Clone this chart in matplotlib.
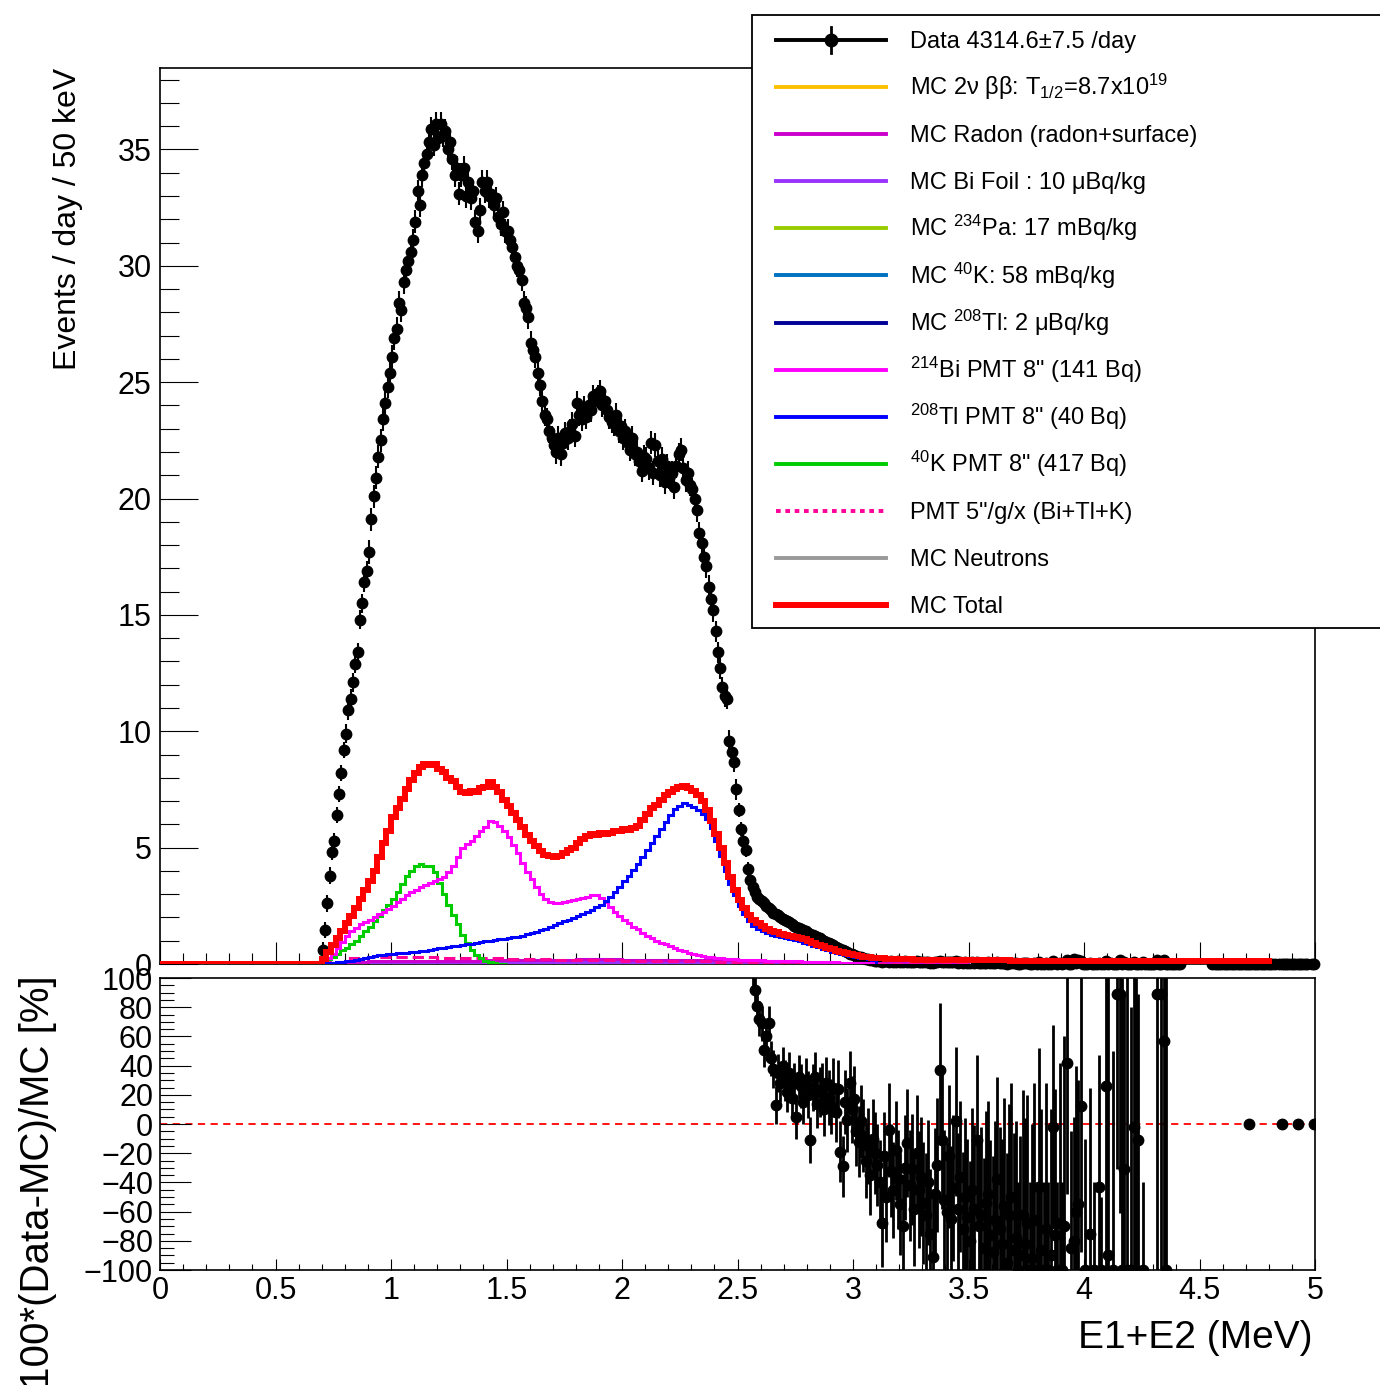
import matplotlib
matplotlib.use('Agg')
import matplotlib.pyplot as plt
import numpy as np
from matplotlib.lines import Line2D
from matplotlib.patches import Rectangle
from matplotlib.ticker import MultipleLocator

plt.rcParams['font.family'] = ['Liberation Sans', 'DejaVu Sans']
plt.rcParams['mathtext.fontset'] = 'custom'
plt.rcParams['mathtext.rm'] = 'Liberation Sans'
plt.rcParams['mathtext.it'] = 'Liberation Sans:italic'
plt.rcParams['mathtext.default'] = 'regular'

nan = np.nan

# data, 10 keV bins starting at 0.70 MeV (events / day)
data_counts = [
    0.6, 1.45, 2.6, 3.8, 4.8, 5.3, 6.4, 7.3, 8.2, 9.2,
    9.9, 10.9, 11.4, 12.1, 12.9, 13.4, 14.8, 15.5, 16.4, 16.9,
    17.7, 19.1, 20.1, 20.9, 21.8, 22.5, 23.4, 24.1, 24.8, 25.4,
    26.1, 26.9, 27.3, 28.4, 28.1, 29.3, 29.8, 30.2, 30.6, 31.1,
    31.9, 33.2, 32.6, 33.9, 34.4, 34.8, 35.3, 35.9, 35.2, 36.1,
    35.5, 36.1, 35.6, 35.8, 35.0, 35.3, 34.6, 33.9, 34.2, 33.1,
    33.9, 34.2, 33.0, 33.6, 32.9, 33.2, 31.9, 31.5, 32.4, 33.6,
    33.2, 33.6, 33.0, 33.1, 32.6, 32.9, 32.1, 31.8, 32.3, 31.5,
    31.5, 31.1, 30.8, 30.4, 30.0, 29.8, 29.4, 28.4, 28.2, 27.8,
    26.7, 26.4, 26.1, 25.4, 24.9, 24.2, 23.6, 23.4, 22.9, 22.6,
    22.3, 22.0, 22.6, 21.9, 22.4, 22.8, 22.6, 22.9, 23.2, 22.7,
    24.1, 23.6, 23.4, 23.9, 23.5, 24.0, 23.8, 24.4, 24.2, 24.4,
    24.6, 24.0, 24.2, 23.8, 23.5, 23.3, 23.2, 23.6, 22.9, 23.1,
    22.6, 22.9, 22.4, 22.1, 22.6, 21.9, 22.0, 21.6, 21.2, 21.8,
    21.7, 21.3, 22.4, 21.1, 22.3, 21.6, 21.0, 21.7, 20.7, 21.4,
    20.9, 21.1, 20.5, 21.4, 21.9, 22.1, 21.3, 20.8, 21.1, 20.6,
    20.4, 20.0, 19.5, 18.5, 18.1, 17.5, 17.1, 16.2, 15.7, 15.2,
    14.3, 13.4, 12.7, 11.9, 11.5, 11.4, 9.6, 9.1, 8.7, 7.5,
    6.6, 5.8, 5.3, 4.9, 4.1, 3.6, 3.3, 3.1, 2.9, 2.8,
    2.7, 2.6, 2.5, 2.4, 2.3, 2.2, 2.15, 2.1, 2.0, 1.95,
    1.9, 1.85, 1.8, 1.7, 1.65, 1.6, 1.55, 1.5, 1.45, 1.4,
    1.35, 1.3, 1.25, 1.2, 1.15, 1.1, 1.05, 1.0, 0.95, 0.9,
    0.85, 0.8, 0.75, 0.7, 0.65, 0.6, 0.55, 0.5, 0.45, 0.42,
    0.38, 0.35, 0.3, 0.28, 0.25, 0.22, 0.2, 0.18, 0.16, 0.15,
    0.12, 0.14, 0.10, 0.13, 0.11, 0.09, 0.12, 0.10, 0.08, 0.11,
    0.09, 0.10, 0.12, 0.08, 0.10, 0.09, 0.07, 0.11, 0.08, 0.09,
    0.07, 0.09, 0.08, 0.06, 0.05, 0.08, 0.10, 0.14, 0.09, 0.07,
    0.08, 0.10, 0.07, 0.09, 0.12, 0.06, 0.08, 0.05, 0.07, 0.06,
    0.05, 0.07, 0.06, 0.10, 0.05, 0.06, 0.04, 0.06, 0.07, 0.05,
    0.03, 0.05, 0.07, 0.04, 0.03, 0.06, 0.02, 0.05, 0.06, 0.03,
    0.04, 0.00, 0.02, 0.05, 0.03, 0.04, 0.00, 0.02, 0.04, 0.00,
    0.07, 0.02, 0.00, 0.04, 0.00, 0.02, 0.12, 0.03, 0.00, 0.04,
    0.00, 0.04, 0.17, 0.00, 0.02, 0.22, 0.05, 0.18, 0.13, 0.00,
    0.00, 0.00, 0.03, 0.00, 0.02, 0.00, 0.06, 0.00, 0.00, 0.14,
    0.01, 0.04, 0.00, 0.00, 0.00, 0.19, 0.00, 0.07, 0.00, 0.00,
    0.00, 0.10, 0.00, 0.00, 0.00, 0.09, 0.00, 0.00, 0.00, 0.00,
    0.00, 0.19, 0.00, 0.00, 0.16, 0.00, 0.00, 0.00, 0.00, 0.00,
    0.00, 0.00, nan, nan, nan, nan, nan, nan, nan, nan,
    nan, nan, nan, nan, nan, 0.0, 0.0, 0.0, 0.0, 0.0,
    0.0, 0.0, 0.0, 0.0, 0.0, 0.0, 0.0, 0.0, 0.0, 0.0,
    0.0, 0.0, 0.0, 0.0, 0.0, 0.0, 0.0, 0.0, 0.0, 0.0,
    0.0, 0.0, 0.0, nan, 0.0, 0.0, 0.0, 0.0, 0.0, 0.0,
    0.0, 0.0, 0.0, 0.0, 0.0, 0.0, 0.0, nan, 0.0, 0.0,
]
# error per 100 keV row
data_err_rows = [0.35, 0.4, 0.5, 0.5, 0.5, 0.5, 0.5, 0.5, 0.5, 0.5,
                 0.5, 0.5, 0.5, 0.5, 0.5, 0.5, 0.5, 0.45, 0.3, 0.2,
                 0.2, 0.2, 0.15, 0.12, 0.08, 0.08, 0.08, 0.08, 0.08, 0.08,
                 0.08, 0.08, 0.08, 0.08, 0.08, 0.08, 0.08, 0.05, 0.05, 0.05,
                 0.05, 0.05, 0.05]

# MC, 20 keV bins starting at 0.70 MeV
mc_bi_pmt = [
    0.1, 0.25, 0.45, 0.7, 0.95, 1.2, 1.4, 1.55, 1.7, 1.8,
    1.9, 2.0, 2.15, 2.25, 2.35, 2.5, 2.65, 2.8, 2.95, 3.1,
    3.2, 3.3, 3.4, 3.5, 3.55, 3.65, 3.75, 3.95, 4.2, 4.6,
    5.0, 5.15, 5.3, 5.5, 5.7, 5.9, 6.15, 6.1, 5.95, 5.7,
    5.45, 5.1, 4.75, 4.35, 3.95, 3.65, 3.3, 3.0, 2.8, 2.65,
    2.6, 2.6, 2.65, 2.7, 2.75, 2.8, 2.85, 2.9, 2.95, 2.95,
    2.85, 2.65, 2.45, 2.25, 2.05, 1.9, 1.75, 1.6, 1.5, 1.35,
    1.2, 1.1, 1.0, 0.92, 0.84, 0.77, 0.7, 0.62, 0.55, 0.48,
    0.42, 0.37, 0.33, 0.3, 0.28, 0.26, 0.24, 0.22, 0.21, 0.2,
    0.19, 0.18, 0.18, 0.17, 0.17, 0.16, 0.15, 0.15, 0.14, 0.13,
    0.12, 0.12, 0.11, 0.11, 0.10, 0.10, 0.09, 0.09, 0.08, 0.08,
    0.07, 0.07, 0.06, 0.06, 0.05, 0.05, 0.04, 0.04, 0.03, 0.02,
]
mc_k_pmt = [
    0.1, 0.2, 0.3, 0.45, 0.6, 0.7, 0.85, 1.0, 1.2, 1.4,
    1.6, 1.85, 2.05, 2.3, 2.55, 2.8, 3.1, 3.45, 3.8, 4.0,
    4.2, 4.3, 4.2, 4.2, 3.95, 3.5, 3.0, 2.55, 2.1, 1.7,
    1.25, 0.9, 0.6, 0.4, 0.25, 0.15, 0.08, 0.04, 0.02, 0.0,
]
mc_tl_pmt = [
    0.02, 0.04, 0.06, 0.08, 0.1, 0.12, 0.15, 0.19, 0.23, 0.27,
    0.3, 0.34, 0.38, 0.4, 0.42, 0.44, 0.46, 0.48, 0.49, 0.5,
    0.52, 0.55, 0.58, 0.61, 0.64, 0.67, 0.7, 0.73, 0.76, 0.79,
    0.82, 0.85, 0.88, 0.91, 0.94, 0.97, 1.0, 1.03, 1.06, 1.09,
    1.12, 1.15, 1.18, 1.22, 1.27, 1.32, 1.38, 1.45, 1.52, 1.6,
    1.68, 1.76, 1.83, 1.9, 1.97, 2.05, 2.13, 2.22, 2.32, 2.43,
    2.55, 2.7, 2.88, 3.08, 3.3, 3.55, 3.8, 4.05, 4.3, 4.6,
    4.9, 5.2, 5.5, 5.8, 6.1, 6.4, 6.65, 6.8, 6.9, 6.85,
    6.75, 6.6, 6.45, 6.25, 5.85, 5.3, 4.65, 4.0, 3.45, 2.95,
    2.5, 2.15, 1.85, 1.65, 1.5, 1.4, 1.32, 1.26, 1.21, 1.17,
    1.13, 1.09, 1.05, 0.99, 0.92, 0.85, 0.78, 0.71, 0.65, 0.59,
    0.53, 0.48, 0.43, 0.38, 0.34, 0.3, 0.27, 0.24, 0.21, 0.19,
]
# MC total, 20 keV bins starting at 0 MeV
mc_total = [0.0] * 35 + [
    0.2, 0.5, 0.8, 1.1, 1.4, 1.75, 2.05, 2.4, 2.8, 3.2,
    3.55, 4.0, 4.6, 5.2, 5.7, 6.3, 6.7, 7.1, 7.5, 7.9,
    8.2, 8.45, 8.6, 8.55, 8.6, 8.4, 8.25, 8.0, 7.85, 7.6,
    7.4, 7.35, 7.45, 7.4, 7.55, 7.6, 7.8, 7.6, 7.4, 7.05,
    6.8, 6.5, 6.2, 5.9, 5.55, 5.3, 5.05, 4.85, 4.7, 4.65,
    4.6, 4.65, 4.75, 4.9, 5.0, 5.2, 5.35, 5.5, 5.6, 5.55,
    5.65, 5.6, 5.65, 5.7, 5.7, 5.8, 5.75, 5.85, 5.95, 6.2,
    6.45, 6.7, 6.85, 7.05, 7.25, 7.4, 7.5, 7.6, 7.65, 7.55,
    7.45, 7.25, 7.0, 6.6, 6.15, 5.6, 5.0, 4.35, 3.75, 3.2,
    2.75, 2.4, 2.1, 1.9, 1.75, 1.62, 1.5, 1.42, 1.36, 1.3,
    1.26, 1.22, 1.17, 1.12, 1.06, 0.98, 0.9, 0.83, 0.76, 0.7,
    0.64, 0.58, 0.53, 0.48, 0.43, 0.39, 0.35, 0.32, 0.29, 0.27,
    0.25, 0.24, 0.23, 0.22, 0.21, 0.21, 0.2, 0.2, 0.19, 0.19,
    0.19, 0.18, 0.18, 0.18, 0.18, 0.17, 0.17, 0.17, 0.17, 0.17,
    0.17, 0.16, 0.16, 0.16, 0.16, 0.16, 0.16, 0.16, 0.16, 0.15,
    0.15, 0.15, 0.15, 0.15, 0.15, 0.15, 0.15, 0.15, 0.15, 0.15,
    0.15, 0.15, 0.15, 0.15, 0.14, 0.14, 0.14, 0.14, 0.14, 0.14,
    0.14, 0.14, 0.14, 0.14, 0.14, 0.14, 0.14, 0.14, 0.14, 0.14,
    0.14, 0.14, 0.14, 0.14, 0.14, 0.14, 0.14, 0.14, 0.14, 0.14,
    0.14, 0.14, 0.14, 0.14, 0.14, 0.14, 0.14, 0.14, 0.14, 0.14,
    0.14, 0.14, 0.14, 0.14, 0.14,
]

# minor MC components, 100 keV bins starting at 0.70 MeV
mc_2nubb = [0.01, 0.02, 0.02, 0.02, 0.02, 0.02, 0.02, 0.02, 0.02, 0.02, 0.02, 0.02, 0.02, 0.01,
            0.01, 0.01, 0.01, 0.01, 0.01, 0.01, 0.01, 0.0, 0.0, 0.0, 0.0, 0.0, 0.0, 0.0]
mc_radon = [0.05, 0.1, 0.12, 0.13, 0.14, 0.15, 0.15, 0.16, 0.17, 0.18, 0.19, 0.2, 0.2, 0.19,
            0.18, 0.17, 0.17, 0.16, 0.15, 0.12, 0.1, 0.08, 0.06, 0.05, 0.04, 0.03, 0.02, 0.02]
mc_bi_foil = [0.05, 0.08, 0.1, 0.1, 0.1, 0.1, 0.1, 0.1, 0.09, 0.09, 0.09, 0.08, 0.08, 0.08,
              0.07, 0.07, 0.06, 0.06, 0.05, 0.04, 0.03, 0.03, 0.02, 0.02, 0.01, 0.01, 0.0, 0.0]
mc_pa234 = [0.03, 0.04, 0.04, 0.04, 0.04, 0.04, 0.04, 0.04, 0.03, 0.03, 0.03, 0.03, 0.03, 0.02,
            0.02, 0.01, 0.01, 0.0, 0.0, 0.0, 0.0, 0.0, 0.0, 0.0, 0.0, 0.0, 0.0, 0.0]
mc_k40 = [0.03, 0.04, 0.04, 0.04, 0.03, 0.03, 0.02, 0.01, 0.0, 0.0, 0.0, 0.0, 0.0, 0.0,
          0.0, 0.0, 0.0, 0.0, 0.0, 0.0, 0.0, 0.0, 0.0, 0.0, 0.0, 0.0, 0.0, 0.0]
mc_tl208 = [0.01, 0.01, 0.01, 0.01, 0.01, 0.01, 0.01, 0.01, 0.01, 0.01, 0.01, 0.01, 0.01, 0.01,
            0.01, 0.01, 0.01, 0.01, 0.01, 0.01, 0.01, 0.01, 0.0, 0.0, 0.0, 0.0, 0.0, 0.0]
mc_pmt5 = [0.1, 0.25, 0.3, 0.3, 0.28, 0.26, 0.25, 0.24, 0.22, 0.2, 0.18, 0.17, 0.16, 0.15,
           0.14, 0.13, 0.12, 0.1, 0.07, 0.05, 0.04, 0.03, 0.02, 0.02, 0.01, 0.01, 0.0, 0.0]
mc_neutrons = [0.04, 0.05, 0.06, 0.06, 0.06, 0.06, 0.06, 0.06, 0.06, 0.06, 0.06, 0.06, 0.06, 0.06,
               0.06, 0.06, 0.06, 0.06, 0.06, 0.06, 0.06, 0.05, 0.05, 0.05, 0.05, 0.05, 0.04, 0.04]

# 100*(Data-MC)/MC, 10 keV bins starting at 2.55 MeV
ratio = [
    120, 105, 92, 81, 72,
    69, 51, 60, 69, 45, 38, 13, 35, 28, 40,
    30, 22, 35, 18, 28, 5, 32, 26, 15, 30,
    20, -11, 25, 32, 14, 22, 24, 10, 28, 18,
    12, 25, 8, 24, -19, -29, 15, 3, 28, 10,
    17, -5, -12, 2, -8, -25, -15, -35, -10, -20,
    -28, -40, -68, -22, -50, -4, -32, -45, -18, -38,
    -55, -70, -30, -13, -42, -31, -58, -20, -45, -36,
    -54, -62, -40, -75, -91, -48, -28, 37, -11, -52,
    -60, -22, -65, -44, 2, -58, -36, -72, -50, -64,
    -80, -45, -58, -11, -70, -62, -85, -54, -48, -76,
    -88, -66, -38, -72, -82, -56, -95, -62, -50, -86,
    -78, -100, -90, -62, -82, -68, -100, -92, -66, -100,
    -43, -86, -100, -72, -100, -90, -2, -76, -100, -68,
    -100, -70, 42, nan, -85, -80, -60, -55, 12, nan,
    -100, nan, -75, nan, -100, nan, -43, -100, nan, 26,
    -90, nan, -100, nan, 89, 89, -100, -31, -100, nan,
    -100, -2, -100, -11, nan, -100, nan, nan, nan, nan,
    nan, 89, nan, 89, 57, -100, nan, nan, nan, nan,
    nan, nan, nan, nan, nan, nan, nan, nan, nan, nan,
    nan, nan, nan, nan, nan, nan, nan, nan, nan, nan,
    nan, nan, nan, nan, nan, nan, nan, nan, nan, nan,
    nan, 0, nan, nan, nan, nan, nan, nan, nan, nan,
    nan, nan, nan, nan, nan, 0, nan, nan, nan, nan,
    nan, nan, 0, nan, nan, nan, nan, nan, nan, 0,
]
ratio_err = [
    14, 13, 13, 12, 12,
    12, 12, 12, 12, 12, 13, 13, 13, 13, 13,
    14, 14, 14, 14, 14, 15, 15, 15, 15, 15,
    16, 16, 16, 17, 17, 17, 18, 18, 18, 19,
    19, 20, 20, 20, 21, 21, 22, 22, 22, 23,
    23, 24, 24, 25, 25, 26, 26, 27, 27, 28,
    28, 29, 30, 30, 31, 32, 32, 33, 34, 34,
    35, 36, 36, 37, 38, 38, 39, 40, 40, 41,
    42, 42, 43, 44, 44, 45, 46, 46, 47, 48,
    48, 49, 50, 50, 51, 52, 52, 53, 54, 54,
    55, 56, 57, 58, 60, 60, 62, 63, 64, 65,
    66, 68, 70, 70, 72, 74, 75, 76, 78, 80,
    80, 60, 82, 85, 86, 88, 60, 92, 94, 60,
    95, 96, 60, 100, 60, 100, 70, 100, 60, 110,
    60, 130, 90, 0, 80, 85, 100, 85, 100, 0,
    90, 0, 100, 0, 60, 0, 90, 50, 0, 130,
    200, 0, 150, 0, 120, 150, 200, 120, 210, 0,
    180, 110, 200, 100, 0, 60, 0, 0, 0, 0,
    0, 200, 0, 200, 200, 210, 0, 0, 0, 0,
] + [0] * 60

legend_labels = [
    'Data 4314.6\u00b17.5 /day',
    'MC 2\u03bd \u03b2\u03b2: T$_{1/2}$=8.7x10$^{19}$',
    'MC Radon (radon+surface)',
    'MC Bi Foil : 10 \u03bcBq/kg',
    'MC $^{234}$Pa: 17 mBq/kg',
    'MC $^{40}$K: 58 mBq/kg',
    'MC $^{208}$Tl: 2 \u03bcBq/kg',
    '$^{214}$Bi PMT 8" (141 Bq)',
    '$^{208}$Tl PMT 8" (40 Bq)',
    '$^{40}$K PMT 8" (417 Bq)',
    'PMT 5"/g/x (Bi+Tl+K)',
    'MC Neutrons',
    'MC Total',
]

W, H = 1380, 1385
fig = plt.figure(figsize=(W / 100, H / 100), dpi=100)
ax = fig.add_axes([160 / W, 1 - 964 / H, 1155 / W, 896 / H])
axr = fig.add_axes([160 / W, 1 - 1270 / H, 1155 / W, 292 / H])

# top panel
dx = 0.705 + 0.01 * np.arange(len(data_counts))
derr = np.repeat(data_err_rows, 10)[:len(data_counts)]
cont = ax.errorbar(dx, data_counts, yerr=derr, xerr=0.005, fmt='o', color='black',
                   ms=7.5, elinewidth=1.5, capsize=0, zorder=2)
for art in cont.get_children():
    art.set_clip_on(False)

def edges(start, width, n):
    return np.round(start + width * np.arange(n + 1), 4)

minor_styles = [
    (mc_neutrons, '#999999', '-'),
    (mc_2nubb, '#ffcc00', '-'),
    (mc_pa234, '#99cc00', '-'),
    (mc_k40, '#0066cc', '-'),
    (mc_tl208, '#000080', '-'),
    (mc_bi_foil, '#9933ff', '-'),
    (mc_radon, '#cc00cc', '-'),
    (mc_pmt5, '#ff0099', '--'),
]
for vals, col, ls in minor_styles:
    ax.stairs(vals, edges(0.70, 0.1, len(vals)), color=col, lw=2.2, ls=ls, zorder=3)

ax.stairs(mc_k_pmt, edges(0.70, 0.02, len(mc_k_pmt)), color='#00cc00', lw=2.2, zorder=3)
ax.stairs(mc_bi_pmt, edges(0.70, 0.02, len(mc_bi_pmt)), color='#ff00ff', lw=2.2, zorder=3)
ax.stairs(mc_tl_pmt, edges(0.70, 0.02, len(mc_tl_pmt)), color='#0000ff', lw=2.2, zorder=3)
ax.stairs(mc_total, edges(0.0, 0.02, len(mc_total)), color='#ff0000', lw=4.3, zorder=4)

ax.set_xlim(0, 5)
ax.set_ylim(0, 38.5)
ax.yaxis.set_major_locator(MultipleLocator(5))
ax.yaxis.set_minor_locator(MultipleLocator(1))
ax.xaxis.set_major_locator(MultipleLocator(0.5))
ax.xaxis.set_minor_locator(MultipleLocator(0.1))
ax.tick_params(axis='y', which='major', direction='in', length=27, width=0.8,
               labelsize=22, pad=6, right=False)
ax.tick_params(axis='y', which='minor', direction='in', length=14, width=0.8, right=False)
ax.tick_params(axis='x', which='major', direction='in', length=16, width=0.8,
               labelbottom=False, top=False)
ax.tick_params(axis='x', which='minor', direction='in', length=8, width=0.8, top=False)
for s in ax.spines.values():
    s.set_linewidth(1.2)

# ratio panel
rx = 2.555 + 0.01 * np.arange(len(ratio))
axr.axhline(0, color='#ff0000', lw=1.3, ls=(0, (4, 3)), zorder=1)
axr.errorbar(rx, ratio, yerr=ratio_err, fmt='o', color='black', ms=7.5,
             elinewidth=2, capsize=0, zorder=2)
axr.set_xlim(0, 5)
axr.set_ylim(-100, 100)
axr.yaxis.set_major_locator(MultipleLocator(20))
axr.yaxis.set_minor_locator(MultipleLocator(5))
axr.xaxis.set_major_locator(MultipleLocator(0.5))
axr.xaxis.set_minor_locator(MultipleLocator(0.1))
axr.xaxis.set_major_formatter(matplotlib.ticker.FuncFormatter(lambda v, p: f'{v:g}'))
axr.tick_params(axis='y', which='major', direction='in', length=22, width=0.8,
                labelsize=22, pad=5, right=False)
axr.tick_params(axis='y', which='minor', direction='in', length=10, width=0.8, right=False)
axr.tick_params(axis='x', which='major', direction='in', length=8, width=0.8,
                labelsize=22, pad=4, top=False)
axr.tick_params(axis='x', which='minor', direction='in', length=4, width=0.8, top=False)
for s in axr.spines.values():
    s.set_linewidth(1.2)

# axis titles
fig.text(68 / W, 1 - 68 / H, 'Events / day / 50 keV', rotation=90, ha='center', va='top', fontsize=23)
fig.text(38 / W, 1 - 975 / H, '100*(Data-MC)/MC [%]', rotation=90, ha='center', va='top', fontsize=29)
fig.text(1313 / W, 1 - 1338 / H, 'E1+E2 (MeV)', ha='right', va='center', fontsize=28)

# legend box
fig.add_artist(Rectangle((752 / W, 1 - 628 / H), 700 / W, 613 / H, transform=fig.transFigure,
                         facecolor='white', edgecolor='black', lw=1.3, zorder=10))
leg_colors = ['black', '#ffc000', '#cc00cc', '#9933ff', '#99cc00', '#0070c0', '#000099',
              '#ff00ff', '#0000ff', '#00cc00', '#ff0099', '#999999', '#ff0000']
leg_y = np.linspace(40, 605, len(legend_labels))
for i, (lab, col) in enumerate(zip(legend_labels, leg_colors)):
    yf = 1 - leg_y[i] / H
    lw = 4.3 if i == len(legend_labels) - 1 else 2.8
    ls = (0, (1.2, 1.2)) if i == 10 else '-'
    fig.add_artist(Line2D([776 / W, 886 / W], [yf, yf], transform=fig.transFigure,
                          color=col, lw=lw, ls=ls, zorder=11))
    if i == 0:
        fig.add_artist(Line2D([831 / W], [yf], transform=fig.transFigure, marker='o',
                              ms=9, color='black', zorder=12))
        fig.add_artist(Line2D([831 / W, 831 / W], [yf - 13 / H, yf + 13 / H],
                              transform=fig.transFigure, color='black', lw=2, zorder=12))
    fig.text(910 / W, 1 - (leg_y[i] + 8) / H, lab, ha='left', va='baseline',
             fontsize=17, zorder=12)

fig.savefig('out.png', dpi=100)
